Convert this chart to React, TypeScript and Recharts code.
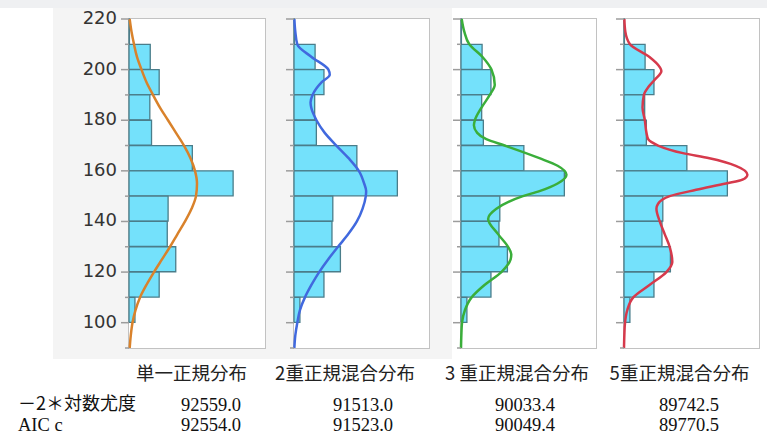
import React from "react";
import { BarChart, Bar, LineChart, Line, XAxis, YAxis } from "recharts";

// histogram bins, top to bottom (percent of sample per 10-unit bin)
const BINS = [
  "210-220", "200-210", "190-200", "180-190", "170-180", "160-170",
  "150-160", "140-150", "130-140", "120-130", "110-120", "100-110", "90-100",
];
const BIN_PCT = [0.1, 5.0, 7.1, 4.9, 5.3, 14.9, 24.5, 9.2, 9.0, 11.0, 7.1, 1.4, 0];

const Y_TICKS = [90, 100, 110, 120, 130, 140, 150, 160, 170, 180, 190, 200, 210, 220];

// fitted densities: [value, percent per bin]
const SINGLE = [
  [220, 0.16], [215, 0.59], [210, 1.18], [205, 1.88], [200, 2.94], [195, 4.12],
  [190, 5.65], [185, 7.29], [180, 9.18], [175, 11.06], [170, 12.94], [165, 14.47],
  [160, 15.53], [155, 16.0], [150, 15.76], [145, 14.71], [140, 13.18], [135, 11.41],
  [130, 9.65], [125, 7.76], [120, 5.88], [115, 4.12], [110, 2.59], [105, 1.53],
  [100, 0.82], [95, 0.42], [90, 0.16],
];
const MIX2 = [
  [220, 0.08], [215, 0.31], [210, 0.78], [205, 4.16], [200, 8.16], [198, 8.47],
  [195, 6.51], [190, 4.39], [187, 3.92], [185, 4.08], [180, 5.33], [175, 7.29],
  [170, 10.04], [165, 12.94], [160, 15.37], [155, 16.63], [152, 17.1], [150, 17.02],
  [145, 16.24], [140, 14.9], [135, 12.86], [130, 10.43], [125, 8.08], [120, 5.96],
  [115, 4.16], [110, 2.59], [105, 1.41], [100, 0.78], [95, 0.31], [90, 0.08],
];
const MIX3 = [
  [220, 0.16], [215, 0.78], [210, 1.96], [205, 5.1], [200, 7.22], [194, 8.0],
  [190, 6.82], [185, 4.86], [180, 3.29], [178, 3.06], [175, 3.84], [172.5, 6.0],
  [170, 10.35], [165, 18.59], [162, 22.9], [158.5, 25.0], [155, 22.9], [152, 18.6],
  [150, 14.67], [145, 8.39], [141, 6.43], [135, 8.78], [130, 11.14], [127, 11.92],
  [125, 11.76], [120, 9.57], [115, 5.65], [110, 2.51], [105, 0.94], [100, 0.24],
  [95, 0.08], [90, 0],
];
const MIX5 = [
  [220, 0.08], [215, 0.31], [210, 1.41], [205, 6.04], [201, 8.47], [199.5, 8.86],
  [196, 7.29], [193, 5.73], [190, 4.71], [185, 4.39], [180, 4.94], [175, 5.33],
  [172.5, 5.73], [170, 8.08], [167, 13.96], [165, 20.24], [162, 26.5], [158.5, 29.25],
  [156.5, 28.08], [155, 24.16], [152.5, 17.1], [150, 10.82], [147, 8.08], [145, 7.69],
  [140, 8.47], [135, 9.65], [130, 10.82], [124, 11.45], [120, 10.04], [115, 6.12],
  [110, 2.2], [105, 0.78], [100, 0.24], [95, 0.08], [90, 0],
];

const MODEL_NAMES = ["単一正規分布", "2重正規混合分布", "3 重正規混合分布", "5重正規混合分布"];
const NEG2LL = ["92559.0", "91513.0", "90033.4", "89742.5"];
const AICC = ["92554.0", "91523.0", "90049.4", "89770.5"];

const X_MAX = 32;
const BAR_FILL = "#74e1fb";
const BAR_STROKE = "#4a7d8a";
const FRAME = "#c2c2c2";
const TICK = "#9c9c9c";
const AXIS_W = 60;
const TOP = 19;
const BOTTOM = 348;
const H = 360;

const histData = BINS.map((bin, i) => ({ bin, pct: BIN_PCT[i] }));

function makeTick(showLabel: boolean) {
  return (props: any) => {
    const { x, y, payload } = props;
    const major = payload.value % 20 === 0;
    return (
      <g>
        <line x1={x - (major ? 8 : 4)} x2={x} y1={y} y2={y} stroke={TICK} strokeWidth={1.5} />
        {showLabel && major && (
          <text
            x={x - 12}
            y={y}
            dy={5}
            textAnchor="end"
            fontSize={18}
            fill="#333"
            fontFamily="DejaVu Sans, Verdana, sans-serif"
          >
            {payload.value}
          </text>
        )}
      </g>
    );
  };
}

function Panel({
  left,
  plotW,
  curve,
  color,
  labels,
}: {
  left: number;
  plotW: number;
  curve: number[][];
  color: string;
  labels: boolean;
}) {
  const W = AXIS_W + plotW + 4;
  const data = curve.map(([y, d]) => ({ y, d }));
  return (
    <div style={{ position: "absolute", left: left - AXIS_W, top: 0, width: W, height: H }}>
      {/* plot frame */}
      <div
        style={{
          position: "absolute",
          left: AXIS_W - 0.75,
          top: TOP - 0.75,
          width: plotW + 1.5,
          height: BOTTOM - TOP + 1.5,
          boxSizing: "border-box",
          border: `1.5px solid ${FRAME}`,
          background: "#fff",
        }}
      />
      <div style={{ position: "absolute", left: 0, top: 0 }}>
        <BarChart
          width={W}
          height={H}
          data={histData}
          layout="vertical"
          barCategoryGap={0}
          margin={{ top: TOP, right: 4, bottom: H - BOTTOM, left: AXIS_W }}
        >
          <XAxis type="number" domain={[0, X_MAX]} hide />
          <YAxis type="category" dataKey="bin" hide />
          <Bar
            dataKey="pct"
            fill={BAR_FILL}
            stroke={BAR_STROKE}
            strokeWidth={1.3}
            isAnimationActive={false}
          />
        </BarChart>
      </div>
      <div style={{ position: "absolute", left: 0, top: 0 }}>
        <LineChart
          width={W}
          height={H}
          data={data}
          layout="vertical"
          margin={{ top: TOP, right: 4, bottom: H - BOTTOM, left: 0 }}
        >
          <XAxis type="number" domain={[0, X_MAX]} hide />
          <YAxis
            type="number"
            dataKey="y"
            domain={[90, 220]}
            reversed
            ticks={Y_TICKS}
            interval={0}
            width={AXIS_W}
            tickSize={0}
            tickMargin={0}
            tickLine={false}
            axisLine={false}
            tick={makeTick(labels)}
          />
          <Line
            type="monotone"
            dataKey="d"
            stroke={color}
            strokeWidth={2.5}
            dot={false}
            isAnimationActive={false}
          />
        </LineChart>
      </div>
    </div>
  );
}

const PANELS = [
  { left: 129, plotW: 136, curve: SINGLE, color: "#d9822b", labels: true },
  { left: 294, plotW: 135, curve: MIX2, color: "#4169de", labels: false },
  { left: 461, plotW: 135, curve: MIX3, color: "#3aae3a", labels: false },
  { left: 624, plotW: 135, curve: MIX5, color: "#d63a4c", labels: false },
];
const TITLE_X = [191.5, 345, 517, 679.5];
const VALUE_X = [211, 363, 525, 689];

export default function App() {
  const cjk = "'Noto Sans CJK JP', sans-serif";
  const serif = "'Liberation Serif', 'Times New Roman', serif";
  return (
    <div
      style={{
        position: "absolute",
        left: 0,
        top: 0,
        width: 767,
        height: 437,
        background: "#fff",
        overflow: "hidden",
      }}
    >
      <svg width={767} height={437} style={{ position: "absolute", left: 0, top: 0 }}>
        <rect x={0} y={0} width={767} height={8} fill="#eff0f2" />
        <rect x={53} y={8} width={399} height={351} fill="#f4f4f4" />
        {MODEL_NAMES.map((t, i) => (
          <text key={t} x={TITLE_X[i]} y={380} textAnchor="middle" fontSize={18.5} fill="#222" fontFamily={cjk}>
            {t}
          </text>
        ))}
        <text x={18} y={410} fontSize={18} fill="#111" fontFamily={cjk}>
          －2＊対数尤度
        </text>
        <text x={18} y={431} fontSize={18.5} fill="#111" fontFamily={serif}>
          AIC c
        </text>
        {NEG2LL.map((v, i) => (
          <text key={"l" + i} x={VALUE_X[i]} y={411} textAnchor="middle" fontSize={18.5} fill="#111" fontFamily={serif}>
            {v}
          </text>
        ))}
        {AICC.map((v, i) => (
          <text key={"a" + i} x={VALUE_X[i]} y={431} textAnchor="middle" fontSize={18.5} fill="#111" fontFamily={serif}>
            {v}
          </text>
        ))}
      </svg>
      {PANELS.map((p) => (
        <Panel key={p.left} {...p} />
      ))}
    </div>
  );
}
